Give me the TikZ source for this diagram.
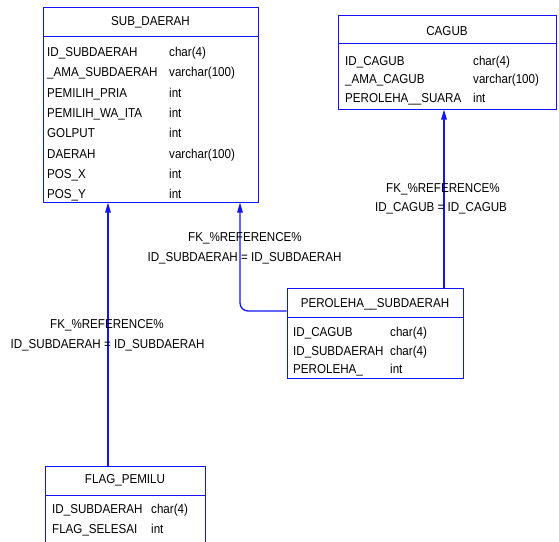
\documentclass[tikz,border=0pt]{standalone}
\usepackage{fontspec}
\setmainfont{Liberation Sans}[FakeStretch=0.9]
\usetikzlibrary{arrows.meta}
\definecolor{erblue}{RGB}{20,20,245}
\newcommand{\erfont}{\fontsize{12.9}{14}\selectfont}
\tikzset{
  table/.style={draw=erblue, line width=1pt, fill=white, rectangle, inner sep=0pt},
  sep/.style={draw=erblue, line width=1pt},
  cell/.style={inner sep=0pt, anchor=base west, font=\erfont},
  title/.style={inner sep=0pt, anchor=base, font=\erfont},
  lbl/.style={inner sep=0pt, anchor=base, font=\erfont},
  fk/.style={draw=erblue, line width=1.3pt, -{Triangle[length=10pt,width=5.5pt]}},
}
\begin{document}
\begin{tikzpicture}[x={(1pt,0)}, y={(0,-1pt)}]
\useasboundingbox (0,0) rectangle (559,541);

% ---- SUB_DAERAH ----
\node[table, minimum width=215pt, minimum height=195pt] (sub) at (150.5,104.5) {};
\draw[sep] (43,36) -- (258,36);
\node[title] (subT) at (150.5,25.5) {SUB\_DAERAH};
\node[cell] (s1a) at (47,56.5)   {ID\_SUBDAERAH};   \node[cell] (s1b) at (169,56.5)   {char(4)};
\node[cell] (s2a) at (47,76.8) {\_AMA\_SUBDAERAH}; \node[cell] (s2b) at (169,76.8) {varchar(100)};
\node[cell] (s3a) at (47,97.1) {PEMILIH\_PRIA};   \node[cell] (s3b) at (169,97.1) {int};
\node[cell] (s4a) at (47,117.4){PEMILIH\_WA\_ITA}; \node[cell] (s4b) at (169,117.4){int};
\node[cell] (s5a) at (47,137.7){GOLPUT};          \node[cell] (s5b) at (169,137.7){int};
\node[cell] (s6a) at (47,158.0){DAERAH};          \node[cell] (s6b) at (169,158.0){varchar(100)};
\node[cell] (s7a) at (47,178.3){POS\_X};          \node[cell] (s7b) at (169,178.3){int};
\node[cell] (s8a) at (47,198.6){POS\_Y};          \node[cell] (s8b) at (169,198.6){int};

% ---- CAGUB ----
\node[table, minimum width=218pt, minimum height=94pt] (cagub) at (447,62) {};
\draw[sep] (338,43) -- (556,43);
\node[title] (cagT) at (447,35.5) {CAGUB};
\node[cell] (c1a) at (345,65.5)   {ID\_CAGUB};          \node[cell] (c1b) at (473,65.5)   {char(4)};
\node[cell] (c2a) at (345,83.8) {\_AMA\_CAGUB};       \node[cell] (c2b) at (473,83.8) {varchar(100)};
\node[cell] (c3a) at (345,102.1){PEROLEHA\_\_SUARA};  \node[cell] (c3b) at (473,102.1){int};

% ---- PEROLEHA__SUBDAERAH ----
\node[table, minimum width=176pt, minimum height=90pt] (perol) at (375,333) {};
\draw[sep] (287,317) -- (463,317);
\node[title] (perT) at (375,307.5) {PEROLEHA\_\_SUBDAERAH};
\node[cell] (p1a) at (293,336.5)   {ID\_CAGUB};     \node[cell] (p1b) at (390,336.5)   {char(4)};
\node[cell] (p2a) at (293,355) {ID\_SUBDAERAH}; \node[cell] (p2b) at (390,355) {char(4)};
\node[cell] (p3a) at (293,373.5)   {PEROLEHA\_};    \node[cell] (p3b) at (390,373.5)   {int};

% ---- FLAG_PEMILU ----
\node[table, minimum width=160pt, minimum height=80pt] (flag) at (125,506) {};
\draw[sep] (45,495) -- (205,495);
\node[title] (flgT) at (125,483.5) {FLAG\_PEMILU};
\node[cell] (f1a) at (52,513.5) {ID\_SUBDAERAH}; \node[cell] (f1b) at (151,513.5) {char(4)};
\node[cell] (f2a) at (52,533.5) {FLAG\_SELESAI}; \node[cell] (f2b) at (151,533.5) {int};

% ---- references ----
\coordinate (xa) at (108,0);
\coordinate (xb) at (240,0);
\coordinate (xc) at (444,0);
\coordinate (yb) at (0,311);

\draw[fk] (flag.north -| xa) -- (sub.south -| xa);
\draw[fk, rounded corners=8pt] (perol.west |- yb) -| (sub.south -| xb);
\draw[fk] (perol.north -| xc) -- (cagub.south -| xc);

\node[lbl] (r1a) at (107,328.5) {FK\_\%REFERENCE\%};
\node[lbl] (r1b) at (107.5,348.5) {ID\_SUBDAERAH = ID\_SUBDAERAH};
\node[lbl] (r2a) at (245,241.5) {FK\_\%REFERENCE\%};
\node[lbl] (r2b) at (244.5,261.5) {ID\_SUBDAERAH = ID\_SUBDAERAH};
\node[lbl] (r3a) at (443,192.5) {FK\_\%REFERENCE\%};
\node[lbl] (r3b) at (441,211.5) {ID\_CAGUB = ID\_CAGUB};
\end{tikzpicture}
\end{document}
